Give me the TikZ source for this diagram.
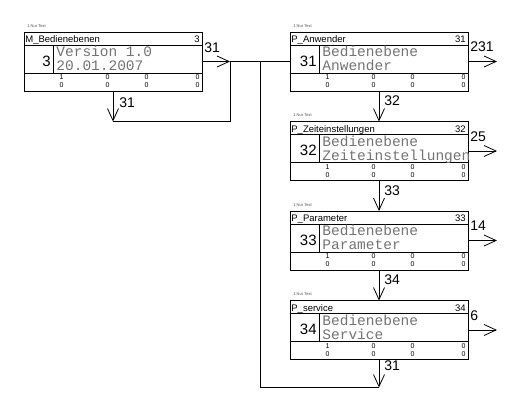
\documentclass[tikz,border=0pt]{standalone}
\usepackage{fontspec}
\setmainfont{Liberation Sans}
\newfontfamily\lcdfont{Liberation Mono}
\usetikzlibrary{arrows.meta}
% one row of the value field below the display text
\newcommand{\datarow}[1]{\makebox[39pt][r]{#1}\makebox[46pt][r]{0}\makebox[39pt][r]{0}\makebox[51pt][r]{0}}

\begin{document}
\begin{tikzpicture}[
    x=1pt, y=-1pt,
    line width=0.8pt,
    menubox/.style={rectangle, draw, minimum width=178pt, minimum height=59pt, inner sep=0pt, outer sep=0pt},
    tag/.style={font=\fontsize{4}{4}\selectfont, text=black!70, inner sep=0pt, anchor=west},
    head/.style={font=\fontsize{9.5}{10}\selectfont, inner sep=0pt, anchor=base west},
    headno/.style={font=\fontsize{9.5}{10}\selectfont, inner sep=0pt, anchor=base east},
    bignum/.style={font=\fontsize{15}{15}\selectfont, inner sep=0pt, anchor=base east},
    lcd/.style={font=\lcdfont\fontsize{14.5}{15}\selectfont, text=black!55, inner sep=0pt, anchor=base west},
    data/.style={font=\fontsize{7}{7}\selectfont, inner sep=0pt, anchor=base west},
    lbl/.style={font=\fontsize{14}{14}\selectfont, inner sep=0pt, anchor=base west},
    flow/.style={-{Straight Barb[length=12pt, width=11pt]}}
]
    \useasboundingbox (0,0) rectangle (520,410);

    % Menu root
    \begin{scope}[shift={(24,32)}]
        \node[tag] (m-tag) at (3,-6) {1 Nur Text};
        \node[menubox] (m) at (89,29.5) {};
        \draw (0,13) -- (178,13) (0,41) -- (178,41) (29,13) -- (29,41);
        \node[head] (m-title) at (1,10.5) {M\_Bedienebenen};
        \node[headno] (m-no) at (176,10.5) {3};
        \node[bignum] (m-id) at (27,34) {3};
        \node[lcd] (m-l1) at (32,24.5) {Version 1.0};
        \node[lcd] (m-l2) at (32,38.5) {20.01.2007};
        \node[data] (m-r1) at (0,47.5) {\datarow{1}};
        \node[data] (m-r2) at (0,55.5) {\datarow{0}};
        \coordinate (m-out) at (206,29.5);
        \coordinate (m-back) at (206,89.5);
        \coordinate (m-down) at (89,89.5);
        \node[lbl] (m-exit) at (180,20) {31};
        \node[lbl] (m-loop) at (95,75) {31};
    \end{scope}

    % P_Anwender
    \begin{scope}[shift={(290,32)}]
        \node[tag] (anw-tag) at (3,-6) {1 Nur Text};
        \node[menubox] (anw) at (89,29.5) {};
        \draw (0,13) -- (178,13) (0,41) -- (178,41) (29,13) -- (29,41);
        \node[head] (anw-title) at (1,10.5) {P\_Anwender};
        \node[headno] (anw-no) at (176,10.5) {31};
        \node[bignum] (anw-id) at (27,34) {31};
        \node[lcd] (anw-l1) at (32,24.5) {Bedienebene};
        \node[lcd] (anw-l2) at (32,38.5) {Anwender};
        \node[data] (anw-r1) at (0,47.5) {\datarow{1}};
        \node[data] (anw-r2) at (0,55.5) {\datarow{0}};
        \coordinate (anw-out) at (207,29.5);
        \node[lbl] (anw-exit) at (180,19.5) {231};
        \node[lbl] (anw-next) at (94,73.5) {32};
    \end{scope}

    % P_Zeiteinstellungen
    \begin{scope}[shift={(290,121.5)}]
        \node[tag] (zeit-tag) at (3,-6) {1 Nur Text};
        \node[menubox] (zeit) at (89,29.5) {};
        \draw (0,13) -- (178,13) (0,41) -- (178,41) (29,13) -- (29,41);
        \node[head] (zeit-title) at (1,10.5) {P\_Zeiteinstellungen};
        \node[headno] (zeit-no) at (176,10.5) {32};
        \node[bignum] (zeit-id) at (27,34) {32};
        \node[lcd] (zeit-l1) at (32,24.5) {Bedienebene};
        \node[lcd] (zeit-l2) at (32,38.5) {Zeiteinstellungen};
        \node[data] (zeit-r1) at (0,47.5) {\datarow{1}};
        \node[data] (zeit-r2) at (0,55.5) {\datarow{0}};
        \coordinate (zeit-out) at (207,29.5);
        \node[lbl] (zeit-exit) at (180,19.5) {25};
        \node[lbl] (zeit-next) at (94,73.5) {33};
    \end{scope}

    % P_Parameter
    \begin{scope}[shift={(290,211)}]
        \node[tag] (par-tag) at (3,-6) {1 Nur Text};
        \node[menubox] (par) at (89,29.5) {};
        \draw (0,13) -- (178,13) (0,41) -- (178,41) (29,13) -- (29,41);
        \node[head] (par-title) at (1,10.5) {P\_Parameter};
        \node[headno] (par-no) at (176,10.5) {33};
        \node[bignum] (par-id) at (27,34) {33};
        \node[lcd] (par-l1) at (32,24.5) {Bedienebene};
        \node[lcd] (par-l2) at (32,38.5) {Parameter};
        \node[data] (par-r1) at (0,47.5) {\datarow{1}};
        \node[data] (par-r2) at (0,55.5) {\datarow{0}};
        \coordinate (par-out) at (207,29.5);
        \node[lbl] (par-exit) at (180,19.5) {14};
        \node[lbl] (par-next) at (94,73.5) {34};
    \end{scope}

    % P_service
    \begin{scope}[shift={(290,300.5)}]
        \node[tag] (serv-tag) at (3,-6) {1 Nur Text};
        \node[menubox] (serv) at (89,29.5) {};
        \draw (0,13) -- (178,13) (0,41) -- (178,41) (29,13) -- (29,41);
        \node[head] (serv-title) at (1,10.5) {P\_service};
        \node[headno] (serv-no) at (176,10.5) {34};
        \node[bignum] (serv-id) at (27,34) {34};
        \node[lcd] (serv-l1) at (32,24.5) {Bedienebene};
        \node[lcd] (serv-l2) at (32,38.5) {Service};
        \node[data] (serv-r1) at (0,47.5) {\datarow{1}};
        \node[data] (serv-r2) at (0,55.5) {\datarow{0}};
        \coordinate (serv-out) at (207,29.5);
        \coordinate (serv-ret) at (89,87);
        \node[lbl] (serv-exit) at (180,19.5) {6};
        \node[lbl] (serv-next) at (94,69.5) {31};
    \end{scope}

    % connectors
    \coordinate (bus-top) at (260,61.5);
    \coordinate (bus-bot) at (260,387.5);
    \draw[flow] (m.east) -- (m-out);
    \draw[flow] (m.south) -- (m-down);
    \draw (m-down) -- (m-back) -- (m-out) -- (anw.west);
    \draw[flow] (anw.east) -- (anw-out);
    \draw[flow] (zeit.east) -- (zeit-out);
    \draw[flow] (par.east) -- (par-out);
    \draw[flow] (serv.east) -- (serv-out);
    \draw[flow] (anw.south) -- (zeit.north);
    \draw[flow] (zeit.south) -- (par.north);
    \draw[flow] (par.south) -- (serv.north);
    \draw[flow] (serv.south) -- (serv-ret);
    \draw (serv-ret) -- (bus-bot) -- (bus-top);

\end{tikzpicture}
\end{document}
